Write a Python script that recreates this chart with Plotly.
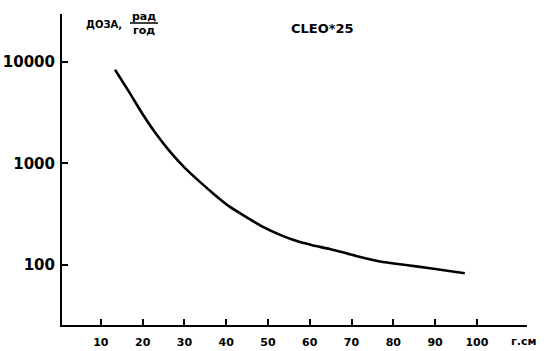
import plotly.graph_objects as go

# Data
r_cm = [13.4, 16.75, 20.1, 23.2, 26.6, 30.1, 33.7, 37.3, 40.9, 45.2, 48.8, 52.9, 56.9, 60.8, 64.8, 71.1, 77.5, 83.0, 88.8, 97.1]
dose = [8340, 5060, 3006, 1954, 1298, 903, 658, 490, 373, 290, 237, 198, 172, 156, 144, 123, 107, 100, 93, 83]

x_ticks = [10, 20, 30, 40, 50, 60, 70, 80, 90, 100]
y_ticks = [100, 1000, 10000]
y_tick_text = ["100", "1000", "10000"]

W, H = 544, 351
L, R, T, B = 62, 17, 14, 26
pw, ph = W - L - R, H - T - B


def px(xp):
    return (xp - L) / pw


def py(yp):  # yp measured from top of image
    return (H - B - yp) / ph


fig = go.Figure()
fig.add_trace(go.Scatter(x=r_cm, y=dose, mode="lines",
                         line=dict(color="black", width=2.6, shape="spline", smoothing=0.6),
                         hoverinfo="skip", showlegend=False))

bold = dict(family="DejaVu Sans", color="black", weight="bold")

fig.update_layout(
    width=W, height=H,
    margin=dict(l=L, r=R, t=T, b=B),
    paper_bgcolor="white", plot_bgcolor="white",
    xaxis=dict(range=[0.7, 112], tickvals=x_ticks, ticks="inside", ticklen=6, tickwidth=2,
               tickcolor="black", showline=True, linewidth=2, linecolor="black",
               showgrid=False, zeroline=False, automargin=False, ticklabelstandoff=6,
               tickfont=dict(size=11, **bold)),
    yaxis=dict(type="log", range=[1.41, 4.47], tickvals=y_ticks, ticktext=y_tick_text,
               ticks="inside", ticklen=6, tickwidth=2, tickcolor="black",
               showline=True, linewidth=2, linecolor="black", showgrid=False, zeroline=False,
               automargin=False, ticklabelstandoff=2,
               tickfont=dict(size=15, **bold)),
    annotations=[
        dict(text="CLEO*25", x=px(322), y=py(28), xref="paper", yref="paper", showarrow=False,
             xanchor="center", yanchor="middle", font=dict(size=13, **bold)),
        dict(text="г.см", x=px(523), y=py(342), xref="paper", yref="paper", showarrow=False,
             xanchor="center", yanchor="middle", font=dict(size=11, **bold)),
        dict(text="ДОЗА,", x=px(104), y=py(25), xref="paper", yref="paper", showarrow=False,
             xanchor="center", yanchor="middle", font=dict(size=10, **bold)),
        dict(text="рад", x=px(144), y=py(16), xref="paper", yref="paper", showarrow=False,
             xanchor="center", yanchor="middle", font=dict(size=11, **bold)),
        dict(text="год", x=px(144), y=py(30), xref="paper", yref="paper", showarrow=False,
             xanchor="center", yanchor="middle", font=dict(size=11, **bold)),
    ],
    shapes=[dict(type="line", xref="paper", yref="paper", x0=px(130), x1=px(158),
                 y0=py(23), y1=py(23), line=dict(color="black", width=1.5))],
)

fig.write_html("out.html")
